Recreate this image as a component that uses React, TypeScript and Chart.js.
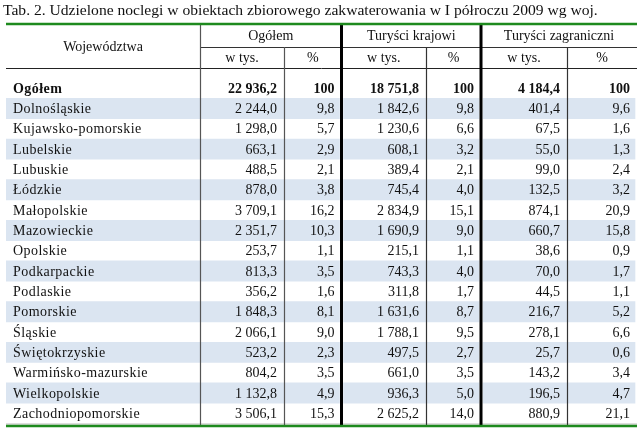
import { useEffect, useRef } from "react";
import { Chart, registerables } from "chart.js";

Chart.register(...registerables);

const tableTitle =
  "Tab. 2. Udzielone noclegi w obiektach zbiorowego zakwaterowania w I półroczu 2009 wg woj.";
const rowHeader = "Województwa";
const groupHeaders = ["Ogółem", "Turyści krajowi", "Turyści zagraniczni"];
const subHeaders = ["w tys.", "%"];

const regions = [
  "Ogółem",
  "Dolnośląskie",
  "Kujawsko-pomorskie",
  "Lubelskie",
  "Lubuskie",
  "Łódzkie",
  "Małopolskie",
  "Mazowieckie",
  "Opolskie",
  "Podkarpackie",
  "Podlaskie",
  "Pomorskie",
  "Śląskie",
  "Świętokrzyskie",
  "Warmińsko-mazurskie",
  "Wielkopolskie",
  "Zachodniopomorskie",
];

const totalThousands = [
  22936.2, 2244.0, 1298.0, 663.1, 488.5, 878.0, 3709.1, 2351.7, 253.7, 813.3,
  356.2, 1848.3, 2066.1, 523.2, 804.2, 1132.8, 3506.1,
];
const totalPct = [
  100, 9.8, 5.7, 2.9, 2.1, 3.8, 16.2, 10.3, 1.1, 3.5, 1.6, 8.1, 9.0, 2.3, 3.5,
  4.9, 15.3,
];
const domesticThousands = [
  18751.8, 1842.6, 1230.6, 608.1, 389.4, 745.4, 2834.9, 1690.9, 215.1, 743.3,
  311.8, 1631.6, 1788.1, 497.5, 661.0, 936.3, 2625.2,
];
const domesticPct = [
  100, 9.8, 6.6, 3.2, 2.1, 4.0, 15.1, 9.0, 1.1, 4.0, 1.7, 8.7, 9.5, 2.7, 3.5,
  5.0, 14.0,
];
const foreignThousands = [
  4184.4, 401.4, 67.5, 55.0, 99.0, 132.5, 874.1, 660.7, 38.6, 70.0, 44.5, 216.7,
  278.1, 25.7, 143.2, 196.5, 880.9,
];
const foreignPct = [
  100, 9.6, 1.6, 1.3, 2.4, 3.2, 20.9, 15.8, 0.9, 1.7, 1.1, 5.2, 6.6, 0.6, 3.4,
  4.7, 21.1,
];

// column edges in table units (x scale)
const colEdges = [0, 194, 278, 335.5, 420, 475, 561, 631];

function fmtThousands(v: number): string {
  const s = v.toFixed(1);
  const [int, dec] = s.split(".");
  const grouped = int.replace(/\B(?=(\d{3})+(?!\d))/g, " ");
  return grouped + "," + dec;
}
function fmtPct(v: number): string {
  if (v === 100) return "100";
  return v.toFixed(1).replace(".", ",");
}

const FONT = '"Liberation Serif", "Times New Roman", serif';

const tablePlugin = {
  id: "tablePlugin",
  afterDatasetsDraw(chart: any) {
    const { ctx, chartArea } = chart;
    const xs = chart.scales.x;
    const ys = chart.scales.y;
    const X = (v: number) => xs.getPixelForValue(v);
    const Y = (i: number) => ys.getPixelForValue(i);
    const top = chartArea.top;
    const bottom = chartArea.bottom;
    const greenTop = top - 54;
    const midLine = top - 31;
    const headBottom = top - 10;
    const greenBottom = bottom + 2.5;

    ctx.save();

    // title
    ctx.fillStyle = "#111";
    ctx.font = "15.6px " + FONT;
    ctx.textAlign = "left";
    ctx.textBaseline = "middle";
    ctx.fillText(tableTitle, X(-3), greenTop - 13);

    const hline = (x0: number, x1: number, y: number, w: number, c: string) => {
      ctx.beginPath();
      ctx.strokeStyle = c;
      ctx.lineWidth = w;
      ctx.moveTo(x0, y);
      ctx.lineTo(x1, y);
      ctx.stroke();
    };
    const vline = (x: number, y0: number, y1: number, w: number, c: string) => {
      ctx.beginPath();
      ctx.strokeStyle = c;
      ctx.lineWidth = w;
      ctx.moveTo(x, y0);
      ctx.lineTo(x, y1);
      ctx.stroke();
    };

    // header lines
    hline(X(colEdges[1]), X(colEdges[7]), midLine + 0.5, 1, "#333");
    hline(X(colEdges[0]), X(colEdges[7]), headBottom + 0.5, 1, "#222");
    hline(X(colEdges[0]), X(colEdges[7]), bottom + 0.5, 1, "#bbb");

    // vertical lines
    vline(X(colEdges[1]) + 0.5, greenTop, greenBottom, 1.2, "#555");
    vline(X(colEdges[2]) + 0.5, midLine, greenBottom, 1.2, "#555");
    vline(X(colEdges[3]), greenTop, greenBottom, 3, "#000");
    vline(X(colEdges[4]) + 0.5, midLine, greenBottom, 1.2, "#333");
    vline(X(colEdges[5]), greenTop, greenBottom, 3, "#000");
    vline(X(colEdges[6]) + 0.5, midLine, greenBottom, 1.2, "#333");

    // green rules
    hline(X(colEdges[0]), X(colEdges[7]), greenTop, 2.5, "#1e8a1e");
    hline(X(colEdges[0]), X(colEdges[7]), greenBottom, 2.5, "#1e8a1e");

    // header texts
    ctx.font = "14px " + FONT;
    ctx.fillStyle = "#111";
    ctx.textAlign = "center";
    ctx.fillText(
      rowHeader,
      (X(colEdges[0]) + X(colEdges[1])) / 2,
      (greenTop + headBottom) / 2 + 1
    );
    for (let g = 0; g < 3; g++) {
      const a = colEdges[1 + g * 2];
      const m = colEdges[2 + g * 2];
      const b = colEdges[3 + g * 2];
      ctx.fillText(groupHeaders[g], (X(a) + X(b)) / 2, (greenTop + midLine) / 2 + 1);
      ctx.fillText(subHeaders[0], (X(a) + X(m)) / 2, (midLine + headBottom) / 2 + 1);
      ctx.fillText(subHeaders[1], (X(m) + X(b)) / 2, (midLine + headBottom) / 2 + 1);
    }

    // body
    const cols = [
      totalThousands.map(fmtThousands),
      totalPct.map(fmtPct),
      domesticThousands.map(fmtThousands),
      domesticPct.map(fmtPct),
      foreignThousands.map(fmtThousands),
      foreignPct.map(fmtPct),
    ];
    regions.forEach((name, i) => {
      const y = Y(i) + 1;
      ctx.font = (i === 0 ? "bold " : "") + "14px " + FONT;
      ctx.textAlign = "left";
      (ctx as any).letterSpacing = "0.45px";
      ctx.fillText(name, X(colEdges[0]) + 7, y);
      (ctx as any).letterSpacing = "0px";
      ctx.textAlign = "right";
      cols.forEach((col, c) => {
        ctx.fillText(col[i], X(colEdges[c + 2]) - 7, y);
      });
    });

    ctx.restore();
  },
};

const shaded = (from: number, to: number) =>
  regions.map((_, i) => (i % 2 === 1 ? [from, to] : null));

export default function App() {
  const ref = useRef<HTMLCanvasElement | null>(null);
  useEffect(() => {
    document.body.style.margin = "0";
    const canvas = ref.current;
    if (!canvas) return;
    const shadeColor = "#dbe5f1";
    const chart = new Chart(canvas, {
      type: "bar",
      data: {
        labels: regions,
        datasets: [
          { data: shaded(0, 333.5) as any, backgroundColor: shadeColor, grouped: false } as any,
          { data: shaded(337.5, 473) as any, backgroundColor: shadeColor, grouped: false } as any,
          { data: shaded(477, 629) as any, backgroundColor: shadeColor, grouped: false } as any,
        ],
      },
      options: {
        indexAxis: "y",
        animation: false,
        responsive: false,
        devicePixelRatio: 1,
        layout: { padding: { left: 6, right: 3, top: 78, bottom: 5.5 } },
        datasets: {
          bar: { barPercentage: 1, categoryPercentage: 1, borderWidth: 0 },
        } as any,
        scales: {
          x: { type: "linear", min: 0, max: 631, display: false },
          y: { type: "category", display: false, offset: true },
        },
        plugins: {
          legend: { display: false },
          tooltip: { enabled: false },
          title: { display: false },
        },
      },
      plugins: [tablePlugin],
    });
    return () => chart.destroy();
  }, []);
  return (
    <div style={{ width: 640, height: 429, background: "#fff" }}>
      <canvas ref={ref} width={640} height={429} style={{ display: "block" }} />
    </div>
  );
}
